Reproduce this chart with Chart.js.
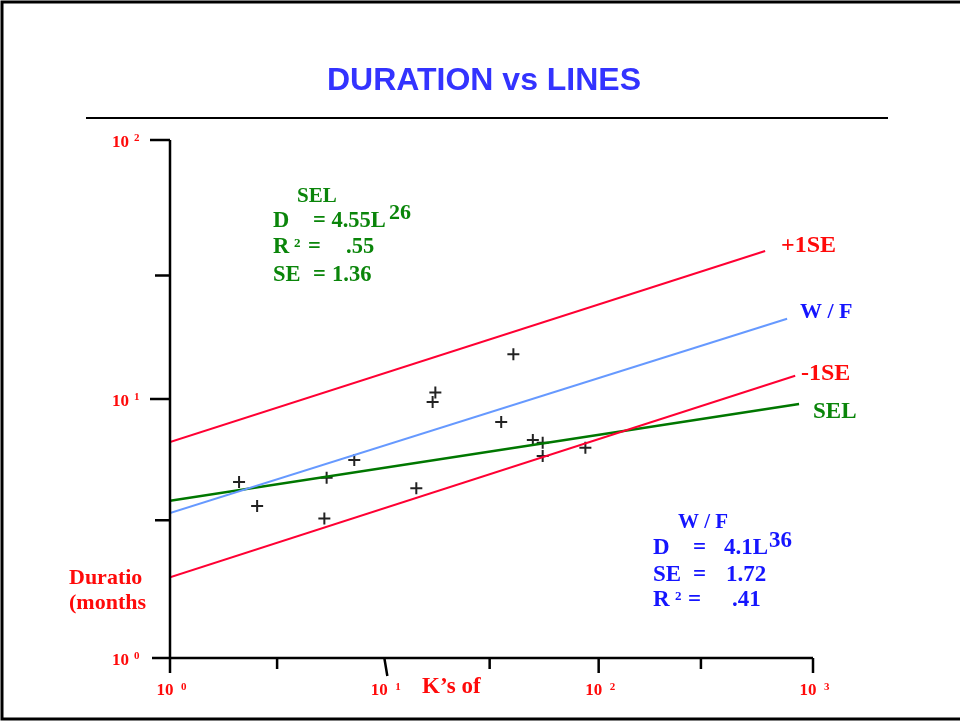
<!DOCTYPE html>
<html>
<head>
<meta charset="utf-8">
<script src="https://cdn.jsdelivr.net/npm/chart.js@4/dist/chart.umd.min.js"></script>
<style>
  body { margin: 0; background: #fff; }
  #wrap { width: 960px; height: 721px; position: relative; }
</style>
</head>
<body>
<div id="wrap"><canvas id="chart"></canvas></div>
<script>
// sample projects: K's of lines vs duration (months)
const kLines = [2.1, 2.55, 5.38, 5.25, 7.24, 14.1, 17.3, 16.8, 35.1, 40.0, 49.3, 54.8, 54.8, 86.7];
const months = [4.78, 3.86, 4.97, 3.46, 5.81, 4.52, 10.6, 9.73, 8.15, 14.9, 6.95, 6.78, 6.03, 6.49];

// fitted lines as [x, y] start / end
const plusSE = [[1, 6.82], [598, 37.3]];
const wfFit = [[1, 3.63], [757, 20.4]];
const minusSE = [[1, 2.05], [826, 12.3]];
const selFit = [[1, 4.05], [861, 9.57]];

// axis ticks
const xTicks = [1, 3.16, 10, 31, 100, 300, 1000];
const yTicks = [1, 3.4, 10, 30, 100];
const xDecades = [1, 10, 100, 1000];
const yDecades = [1, 10, 100];
const decadeExp = ['0', '1', '2', '3'];

const RED = '#ff0a0a';
const LINE_RED = '#ff0033';
const GREEN = '#0a850a';
const BLUE = '#1515ff';
const SERIF = '"Liberation Serif", "Times New Roman", serif';

const toPts = arr => arr.map(([x, y]) => ({ x, y }));

function lineSet(pts, color, width) {
  return {
    type: 'line',
    data: toPts(pts),
    borderColor: color,
    borderWidth: width,
    pointRadius: 0,
    fill: false,
  };
}

function txt(ctx, s, x, y, font, color, align) {
  ctx.font = font;
  ctx.fillStyle = color;
  ctx.textAlign = align || 'left';
  ctx.textBaseline = 'alphabetic';
  ctx.fillText(s, x, y);
}

const overlay = {
  id: 'overlay',
  beforeDraw(chart) {
    const ctx = chart.ctx;
    ctx.save();
    ctx.fillStyle = '#fff';
    ctx.fillRect(0, 0, chart.width, chart.height);
    // frame
    ctx.strokeStyle = '#000';
    ctx.lineWidth = 3;
    ctx.beginPath();
    ctx.moveTo(960, 2);
    ctx.lineTo(2, 2);
    ctx.lineTo(2, 719);
    ctx.lineTo(960, 719);
    ctx.stroke();
    // title
    txt(ctx, 'DURATION vs LINES', 484, 90, 'bold 32px "Liberation Sans", Arial, sans-serif', '#3333ff', 'center');
    ctx.lineWidth = 2;
    ctx.beginPath();
    ctx.moveTo(86, 118);
    ctx.lineTo(888, 118);
    ctx.stroke();
    ctx.restore();
  },
  afterDatasetsDraw(chart) {
    const ctx = chart.ctx;
    const xs = chart.scales.x, ys = chart.scales.y;
    const x0 = xs.getPixelForValue(1), y0 = ys.getPixelForValue(1);
    const xEnd = xs.getPixelForValue(1000), yTop = ys.getPixelForValue(100);
    ctx.save();
    ctx.strokeStyle = '#000';
    ctx.lineWidth = 2.5;
    ctx.lineCap = 'butt';
    ctx.beginPath();
    // y axis
    ctx.moveTo(x0, yTop);
    ctx.lineTo(x0, y0 + 15);
    // x axis
    ctx.moveTo(x0 - 18, y0);
    ctx.lineTo(xEnd, y0);
    // y ticks
    yTicks.forEach(v => {
      if (v === 1) return;
      const p = ys.getPixelForValue(v);
      const major = yDecades.includes(v);
      ctx.moveTo(x0 - (major ? 20 : 15), p);
      ctx.lineTo(x0, p);
    });
    // x ticks
    xTicks.forEach(v => {
      if (v === 1) return;
      const p = xs.getPixelForValue(v);
      const major = xDecades.includes(v);
      if (v === 10) {
        ctx.moveTo(p, y0);
        ctx.lineTo(p + 3, y0 + 18);
      } else {
        ctx.moveTo(p, y0);
        ctx.lineTo(p, y0 + (major ? 15 : 11));
      }
    });
    ctx.stroke();

    // tick labels
    const f10 = 'bold 17px ' + SERIF, fExp = 'bold 11px ' + SERIF;
    yDecades.forEach((v, i) => {
      const p = ys.getPixelForValue(v);
      txt(ctx, '10', x0 - 41, p + 7, f10, RED, 'right');
      txt(ctx, decadeExp[i], x0 - 36, p + 1, fExp, RED);
    });
    xDecades.forEach((v, i) => {
      const p = xs.getPixelForValue(v);
      txt(ctx, '10', p - 5, 695, f10, RED, 'center');
      txt(ctx, decadeExp[i], p + 11, 690, fExp, RED);
    });

    // axis titles
    txt(ctx, 'Duratio', 69, 584, 'bold 22px ' + SERIF, RED);
    txt(ctx, '(months', 69, 609, 'bold 22px ' + SERIF, RED);
    txt(ctx, 'K\u2019s of', 422, 693, 'bold 23px ' + SERIF, RED);

    // line labels
    txt(ctx, '+1SE', 781, 252, 'bold 24px ' + SERIF, RED);
    txt(ctx, 'W / F', 800, 318, 'bold 22px ' + SERIF, BLUE);
    txt(ctx, '-1SE', 801, 380, 'bold 24px ' + SERIF, RED);
    txt(ctx, 'SEL', 813, 418, 'bold 23px ' + SERIF, GREEN);

    // SEL fit box
    const fg = 'bold 22.5px ' + SERIF, fs = 'bold 13px ' + SERIF;
    txt(ctx, 'SEL', 297, 202, 'bold 21px ' + SERIF, GREEN);
    txt(ctx, 'D', 273, 227, fg, GREEN);
    txt(ctx, '= 4.55L', 313, 227, fg, GREEN);
    txt(ctx, '26', 389, 219, 'bold 22px ' + SERIF, GREEN);
    txt(ctx, 'R', 273, 253, fg, GREEN);
    txt(ctx, '2', 294, 247, fs, GREEN);
    txt(ctx, '=', 308, 253, fg, GREEN);
    txt(ctx, '.55', 346, 253, fg, GREEN);
    txt(ctx, 'SE', 273, 281, fg, GREEN);
    txt(ctx, '=', 313, 281, fg, GREEN);
    txt(ctx, '1.36', 332, 281, fg, GREEN);

    // W/F fit box
    const fw = 'bold 23px ' + SERIF;
    txt(ctx, 'W / F', 678, 528, 'bold 21px ' + SERIF, BLUE);
    txt(ctx, 'D', 653, 554, fw, BLUE);
    txt(ctx, '=', 693, 554, fw, BLUE);
    txt(ctx, '4.1L', 724, 554, fw, BLUE);
    txt(ctx, '36', 769, 547, 'bold 23px ' + SERIF, BLUE);
    txt(ctx, 'SE', 653, 581, fw, BLUE);
    txt(ctx, '=', 693, 581, fw, BLUE);
    txt(ctx, '1.72', 726, 581, fw, BLUE);
    txt(ctx, 'R', 653, 606, fw, BLUE);
    txt(ctx, '2', 675, 600, fs, BLUE);
    txt(ctx, '=', 688, 606, fw, BLUE);
    txt(ctx, '.41', 732, 606, fw, BLUE);
    ctx.restore();
  },
};

new Chart(document.getElementById('chart'), {
  data: {
    datasets: [
      lineSet(plusSE, LINE_RED, 2),
      lineSet(wfFit, '#6699ff', 2),
      lineSet(minusSE, LINE_RED, 2),
      lineSet(selFit, '#007700', 2.5),
      {
        type: 'scatter',
        data: kLines.map((x, i) => ({ x, y: months[i] })),
        pointStyle: 'cross',
        pointRadius: 6,
        borderColor: '#222',
        borderWidth: 2,
      },
    ],
  },
  options: {
    responsive: true,
    maintainAspectRatio: false,
    animation: false,
    layout: { padding: { left: 170, right: 147, top: 140, bottom: 63 } },
    plugins: { legend: { display: false }, tooltip: { enabled: false } },
    scales: {
      x: { type: 'logarithmic', min: 1, max: 1000, display: false },
      y: { type: 'logarithmic', min: 1, max: 100, display: false },
    },
  },
  plugins: [overlay],
});
</script>
</body>
</html>
